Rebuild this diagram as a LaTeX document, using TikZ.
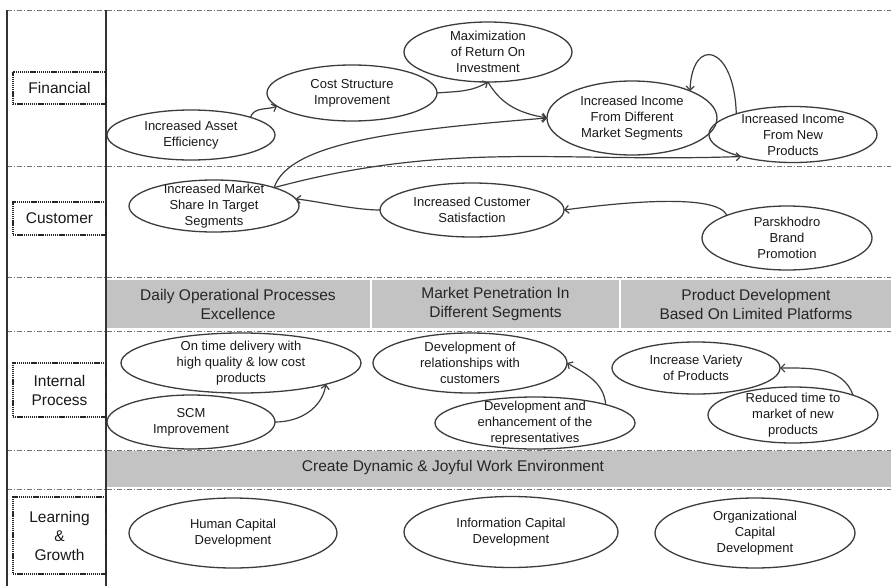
\documentclass[tikz,border=0pt]{standalone}
\usepackage{fontspec}
\setmainfont{Liberation Sans}
\usetikzlibrary{shapes.geometric,arrows.meta}
\definecolor{bandgray}{HTML}{C3C3C3}
\definecolor{edgegray}{HTML}{3C3C3C}
\begin{document}
\begin{tikzpicture}[x=1pt,y=1pt,
  goal/.style={ellipse, draw=edgegray, line width=1.3pt, inner sep=0pt, outer sep=0pt},
  gtext/.style={align=center, font=\fontsize{13}{16}\selectfont, text=black!90, inner sep=0pt},
  link/.style={draw=edgegray, line width=1.2pt, -{Straight Barb[length=4pt,width=8pt]}},
  sepline/.style={draw=black!55, line width=0.9pt, dash pattern=on 5pt off 2pt on 1pt off 2pt},
  persp/.style={draw=black!85, line width=2pt, dash pattern=on 1.3pt off 0.8pt, minimum width=93pt, align=center, font=\fontsize{15.5}{19}\selectfont, text=black!90, inner sep=0pt},
  bandbox/.style={fill=bandgray, inner sep=0pt, align=center, font=\fontsize{15.5}{19}\selectfont, text=black!85},
  bandtxt/.style={align=center, font=\fontsize{15.5}{19}\selectfont, text=black!85, inner sep=0pt}
]
\fill[white] (0,0) rectangle (891,-586);
\useasboundingbox (0,0) rectangle (891,-586);

% gray bands
\node[bandbox, minimum width=264pt, minimum height=48pt] (B1) at (238,-304) {Daily Operational Processes\\Excellence};
\node[bandbox, minimum width=247pt, minimum height=48pt] (B2) at (495.5,-304) {Market Penetration In\\Different Segments};
\node[bandbox, minimum width=270pt, minimum height=48pt] (B3) at (756,-304) {Product Development\\Based On Limited Platforms};
\node[bandbox, minimum width=785pt, minimum height=36pt] (B4) at (498.5,-469) {};
\node[bandtxt] (B4t) at (453,-467) {Create Dynamic \& Joyful Work Environment};

% separator lines
\draw[sepline] (7,-10) -- (891,-10);
\draw[sepline] (7,-166.5) -- (891,-166.5);
\draw[sepline] (7,-277) -- (891,-277);
\draw[sepline] (7,-331) -- (891,-331);
\draw[sepline] (7,-450) -- (891,-450);
\draw[sepline] (7,-489) -- (891,-489);
\draw[black!80, line width=1.1pt] (7,-10) -- (7,-586);
\draw[black!80, line width=1.1pt] (106,-10) -- (106,-586);

% perspective labels
\node[persp, minimum height=32pt] (LF) at (59.5,-88) {Financial};
\node[persp, minimum height=33pt] (LC) at (59.5,-218.5) {Customer};
\node[persp, minimum height=54pt] (LI) at (59.5,-390) {Internal\\Process};
\node[persp, minimum height=77pt] (LL) at (59.5,-535.5) {Learning\\\&\\Growth};

% financial
\node[goal, minimum width=168pt, minimum height=50pt, label={[gtext]center:{Increased Asset\\Efficiency}}] (AE) at (191,-135) {};
\node[goal, minimum width=170pt, minimum height=56pt, label={[gtext]center:{Cost Structure\\Improvement}}] (CS) at (352,-93) {};
\node[goal, minimum width=168pt, minimum height=60pt, label={[gtext]center:{Maximization\\of Return On\\Investment}}] (MX) at (488,-52) {};
\node[goal, minimum width=170pt, minimum height=74pt, label={[gtext]center:{Increased Income\\From Different\\Market Segments}}] (MS) at (632,-118) {};
\node[goal, minimum width=168pt, minimum height=56pt, label={[gtext]center:{Increased Income\\From New\\Products}}] (NP) at (793,-134.5) {};

% customer
\node[goal, minimum width=170pt, minimum height=52pt, label={[gtext]center:{Increased Market\\Share In Target\\Segments}}] (IMS) at (214,-206) {};
\node[goal, minimum width=184pt, minimum height=54pt, label={[gtext]center:{Increased Customer\\Satisfaction}}] (ICS) at (472,-210) {};
\node[goal, minimum width=170pt, minimum height=64pt, label={[gtext]center:{Parskhodro\\Brand\\Promotion}}] (PB) at (787,-238) {};

% internal process
\node[goal, minimum width=240pt, minimum height=60pt, label={[gtext]center:{On time delivery with\\high quality \& low cost\\products}}] (OT) at (241,-363) {};
\node[goal, minimum width=168pt, minimum height=54pt, label={[gtext]center:{SCM\\Improvement}}] (SCM) at (191,-422) {};
\node[goal, minimum width=194pt, minimum height=60pt, label={[gtext]center:{Development of\\relationships with\\customers}}] (DR) at (470,-363) {};
\node[goal, minimum width=200pt, minimum height=52pt, label={[gtext]center:{Development and\\enhancement of the\\representatives}}] (DE) at (535,-423) {};
\node[goal, minimum width=168pt, minimum height=52pt, label={[gtext]center:{Increase Variety\\of Products}}] (IV) at (696,-368) {};
\node[goal, minimum width=170pt, minimum height=56pt, label={[gtext]center:{Reduced time to\\market of new\\products}}] (RT) at (793,-415) {};

% learning & growth
\node[goal, minimum width=208pt, minimum height=70pt, label={[gtext]center:{Human Capital\\Development}}] (HC) at (233,-533) {};
\node[goal, minimum width=214pt, minimum height=71pt, label={[gtext]center:{Information Capital\\Development}}] (IC) at (511,-532) {};
\node[goal, minimum width=200pt, minimum height=70pt, label={[gtext]center:{Organizational\\Capital\\Development}}] (OC) at (755,-533) {};

% connectors
\draw[link] (AE.north east) to[out=70,in=200] (CS.190);
\draw[link] (CS.east) to[out=5,in=210] (MX.south);
\draw[link] (MX.south) to[out=-60,in=170] (MS.west);
\draw[link] (IMS.north east) .. controls +(15,45) and +(-150,-12) .. (MS.west);
\draw[link] (IMS.north east) to[out=15,in=182] (NP.203);
\draw[link] (NP.160) .. controls +(-2,70) and +(2,55) .. (MS.25);
\draw[link] (ICS.west) .. controls +(-25,0) and +(25,-3) .. (IMS.5);
\draw[link] (PB.north west) .. controls +(-10,22) and +(60,8) .. (ICS.east);
\draw[link] (SCM.east) to[out=0,in=-100] (OT.-14);
\draw[link] (DE.north east) to[out=95,in=-30] (DR.east);
\draw[link] (RT.north east) to[out=110,in=0] (IV.east);
\end{tikzpicture}
\end{document}
